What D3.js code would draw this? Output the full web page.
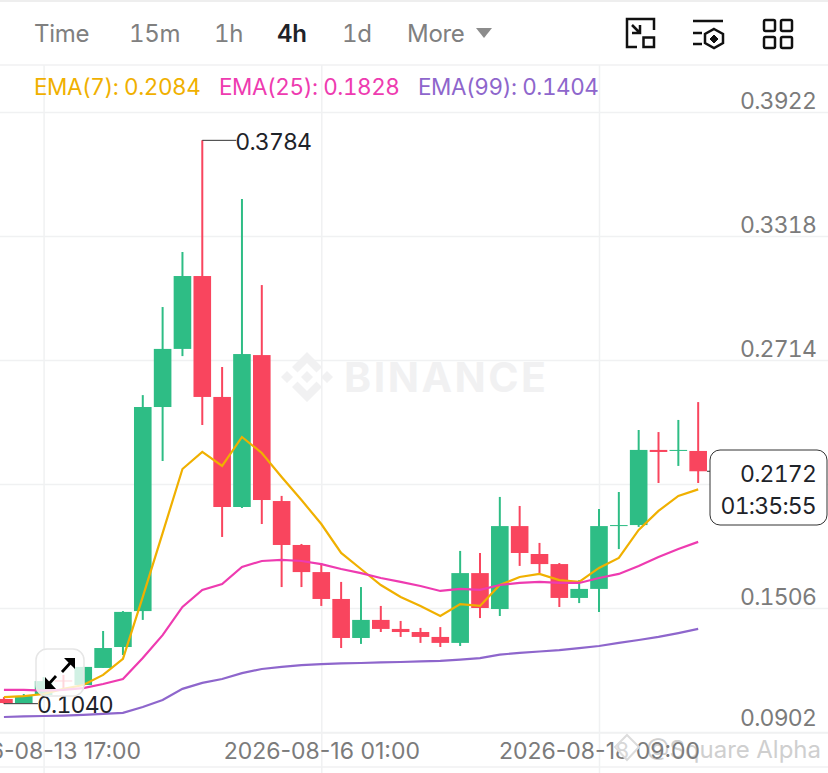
<!DOCTYPE html>
<html>
<head>
<meta charset="utf-8">
<script src="https://cdn.jsdelivr.net/npm/d3@7"></script>
<style>
html, body { margin: 0; padding: 0; background: #fff; overflow: hidden; }
svg { display: block; font-family: Inter, sans-serif; font-variant-numeric: tabular-nums; }
</style>
</head>
<body>
<div id="chart"></div>
<script>
var times = ["2026-08-13 09:00","2026-08-13 13:00","2026-08-13 17:00","2026-08-13 21:00",
    "2026-08-14 01:00","2026-08-14 05:00","2026-08-14 09:00","2026-08-14 13:00","2026-08-14 17:00","2026-08-14 21:00",
    "2026-08-15 01:00","2026-08-15 05:00","2026-08-15 09:00","2026-08-15 13:00","2026-08-15 17:00","2026-08-15 21:00",
    "2026-08-16 01:00","2026-08-16 05:00","2026-08-16 09:00","2026-08-16 13:00","2026-08-16 17:00","2026-08-16 21:00",
    "2026-08-17 01:00","2026-08-17 05:00","2026-08-17 09:00","2026-08-17 13:00","2026-08-17 17:00","2026-08-17 21:00",
    "2026-08-18 01:00","2026-08-18 05:00","2026-08-18 09:00","2026-08-18 13:00","2026-08-18 17:00","2026-08-18 21:00",
    "2026-08-19 01:00","2026-08-19 05:00"];
var open = [.1063,.1043,.1082,.1153,.1131,.1214,.1316,.1491,.2485,.2768,.3123,.2534,.1998,.2738,.2027,.1813,.1681,.1550,
    .1360,.1448,.1404,.1389,.1365,.1336,.1676,.1501,.1905,.1769,.1720,.1555,.1599,.1905,.1910,.2276,.2271,.2271];
var high = [.1072,.1087,.1170,.1180,.1219,.1394,.1491,.2543,.2972,.3240,.3784,.2680,.3498,.3079,.2052,.1818,.1725,.1633,
    .1608,.1516,.1443,.1409,.1413,.1784,.1774,.2047,.2003,.1823,.1725,.1642,.1988,.2071,.2373,.2363,.2422,.2509];
var low = [.1040,.1043,.1077,.1107,.1131,.1214,.1277,.1448,.2222,.2733,.2397,.1852,.1993,.1915,.1608,.1608,.1516,.1311,
    .1331,.1389,.1365,.1336,.1316,.1321,.1457,.1467,.1711,.1676,.1511,.1530,.1487,.1793,.1901,.2115,.2198,.2115];
var close = [.1043,.1077,.1150,.1148,.1219,.1311,.1487,.2485,.2768,.3123,.2534,.1998,.2743,.2032,.1813,.1681,.1550,.1360,
    .1448,.1404,.1389,.1365,.1336,.1676,.1506,.1905,.1774,.1720,.1555,.1599,.1905,.1910,.2276,.2266,.2276,.2172];
var ema7 = [.1072,.1077,.1087,.1112,.1131,.1180,.1258,.1560,.1871,.2183,.2266,.2198,.2339,.2261,.2144,.2032,.1915,.1774,
    .1696,.1618,.1560,.1516,.1467,.1525,.1516,.1618,.1657,.1672,.1642,.1633,.1701,.1750,.1886,.1979,.2052,.2084];
var ema25 = [.1107,.1107,.1104,.1107,.1116,.1136,.1160,.1262,.1374,.1511,.1594,.1623,.1706,.1735,.1740,.1735,.1720,.1696,
    .1676,.1652,.1633,.1613,.1589,.1599,.1594,.1618,.1628,.1633,.1628,.1628,.1652,.1672,.1711,.1754,.1793,.1828];
var ema99 = [.0975,.0978,.0980,.0982,.0985,.0990,.0995,.1024,.1058,.1112,.1141,.1160,.1189,.1209,.1219,.1228,.1233,.1236,
    .1238,.1241,.1243,.1246,.1248,.1255,.1262,.1279,.1287,.1294,.1301,.1311,.1321,.1336,.1350,.1365,.1384,.1404];
var priceTicks = [0.3922, 0.3318, 0.2714, 0.1506, 0.0902];
var gridPrices = [0.3922, 0.3318, 0.2714, 0.2110, 0.1506, 0.0902];
var timeTicks = ["2026-08-13 17:00", "2026-08-16 01:00", "2026-08-18 09:00"];
var intervals = ["Time", "15m", "1h", "4h", "1d", "More"];
var intervalX = [34, 129, 214, 277, 342, 407];
var emaLabels = ["EMA(7): 0.2084", "EMA(25): 0.1828", "EMA(99): 0.1404"];
var emaLabelX = [34, 219, 418];

var width = 828, height = 773,
    gridColor = "#f0f1f2", axisColor = "#7b7b7b",
    up = "#2EBD85", down = "#F9455E",
    emaColors = ["#F0B000", "#EE3BB0", "#8E66CC"];

var parseTime = d3.utcParse("%Y-%m-%d %H:%M"),
    formatTime = d3.utcFormat("%Y-%m-%d %H:%M"),
    dates = times.map(parseTime);

var x = d3.scaleUtc()
    .domain([parseTime(timeTicks[0]), parseTime(timeTicks[2])])
    .range([43.6, 599]);
var y = d3.scaleLinear()
    .domain([0.0902, 0.3922])
    .range([732, 112]);

var svg = d3.select("#chart").append("svg")
    .attr("width", width)
    .attr("height", height);

// frame lines
svg.append("rect").attr("width", width).attr("height", 2).attr("fill", "#eeeeee");
[65, 733, 767].forEach(function (v) {
    svg.append("line").attr("x1", 0).attr("x2", width).attr("y1", v).attr("y2", v)
        .attr("stroke", gridColor).attr("stroke-width", 1.5);
});

// grid
var gridY = d3.axisRight(y).tickValues(gridPrices).tickSize(width).tickFormat("");
svg.append("g").call(gridY)
    .call(function (g) { g.select(".domain").remove(); })
    .selectAll("line").attr("stroke", gridColor).attr("stroke-width", 1.5);
var gridX = d3.axisBottom(x).tickValues(timeTicks.map(parseTime)).tickSize(height - 65).tickFormat("");
svg.append("g").attr("transform", "translate(0,65)").call(gridX)
    .call(function (g) { g.select(".domain").remove(); })
    .selectAll("line").attr("stroke", gridColor).attr("stroke-width", 1.5);

// binance watermark
var wm = svg.append("g").attr("transform", "translate(307,377)").attr("fill", "#f1f1f2");
wm.append("path").attr("d", "M0,-25L15,-10L9.5,-4.5L0,-14L-9.5,-4.5L-15,-10Z M0,25L15,10L9.5,4.5L0,14L-9.5,4.5L-15,10Z M0,-6L6,0L0,6L-6,0Z M-20,-6L-14,0L-20,6L-26,0Z M20,-6L26,0L20,6L14,0Z");
svg.append("text").attr("x", 344).attr("y", 392).attr("font-size", 41).attr("font-weight", 700)
    .attr("letter-spacing", 2.5).attr("fill", "#f1f1f2").text("BINANCE");

// candles
var idx = d3.range(dates.length), bodyWidth = 17.6;
var candle = svg.append("g").selectAll("g").data(idx).enter().append("g")
    .attr("fill", function (i) { return close[i] >= open[i] ? up : down; })
    .attr("stroke", function (i) { return close[i] >= open[i] ? up : down; });
candle.append("line")
    .attr("x1", function (i) { return x(dates[i]); })
    .attr("x2", function (i) { return x(dates[i]); })
    .attr("y1", function (i) { return y(high[i]); })
    .attr("y2", function (i) { return y(low[i]); })
    .attr("stroke-width", 2);
candle.append("rect")
    .attr("x", function (i) { return x(dates[i]) - bodyWidth / 2; })
    .attr("width", bodyWidth)
    .attr("y", function (i) { return y(Math.max(open[i], close[i])); })
    .attr("height", function (i) { return Math.max(1, Math.abs(y(open[i]) - y(close[i]))); })
    .attr("stroke", "none");

// ema lines
var line = d3.line().x(function (d, i) { return x(dates[i]); }).y(function (d) { return y(d); });
[ema7, ema25, ema99].forEach(function (s, k) {
    svg.append("path").datum(s).attr("d", line)
        .attr("fill", "none").attr("stroke", emaColors[k]).attr("stroke-width", 2.2);
});

// high and low markers
function marker(i, value, label) {
    var px = x(dates[i]), py = y(value);
    svg.append("line").attr("x1", px).attr("x2", px + 34).attr("y1", py).attr("y2", py)
        .attr("stroke", "#333").attr("stroke-width", 1);
    svg.append("text").attr("x", px + 33).attr("y", py + 9.5).attr("font-size", 23)
        .attr("letter-spacing", -0.8).attr("fill", "#1e2329").text(label);
}
marker(10, high[10], "0.3784");
marker(0, low[0], "0.1040");

// square alpha mark, the time labels sit on top of it
svg.append("text").attr("x", 821).attr("y", 758).attr("text-anchor", "end").attr("font-size", 24)
    .attr("fill", "#cfcfcf").text("@Square Alpha");

// axes text
var axisY = d3.axisRight(y).tickValues(priceTicks).tickSize(0).tickFormat(d3.format(".4f"));
var gy = svg.append("g").attr("transform", "translate(816,0)").call(axisY);
gy.select(".domain").remove();
gy.selectAll("text").attr("x", 0).attr("text-anchor", "end")
    .attr("dy", function (d) { return d === 0.0902 ? "-7px" : "-4px"; })
    .attr("letter-spacing", -0.8)
    .attr("font-family", "Inter, sans-serif").attr("font-size", 23).attr("fill", axisColor);

var axisX = d3.axisBottom(x).tickValues(timeTicks.map(parseTime)).tickSize(0).tickFormat(formatTime);
var gx = svg.append("g").attr("transform", "translate(0,740)").call(axisX);
gx.select(".domain").remove();
gx.selectAll("text").attr("font-family", "Inter, sans-serif").attr("font-size", 23).attr("fill", axisColor)
    .style("font-variant-numeric", "normal");

svg.append("path").attr("d", "M627,735L639,747L627,760L615,747Z").attr("fill", "#fff").attr("fill-opacity", 0.7)
    .attr("stroke", "#dcdcdc").attr("stroke-width", 2);

// resize button
svg.append("rect").attr("x", 36).attr("y", 649).attr("width", 48).attr("height", 47).attr("rx", 11)
    .attr("fill", "#fff").attr("fill-opacity", 0.78).attr("stroke", "#e6e6e6").attr("stroke-width", 1.5);
svg.append("path").attr("d", "M62,672L72,661 M56,676L47,686")
    .attr("fill", "none").attr("stroke", "#000").attr("stroke-width", 2.8);
svg.append("path").attr("d", "M64,658L75,658L75,669Z M45,677L45,689L56,689Z")
    .attr("fill", "#000");

// price callout
svg.append("line").attr("x1", 707).attr("x2", 710).attr("y1", y(close[35])).attr("y2", y(close[35]))
    .attr("stroke", "#333");
svg.append("rect").attr("x", 710).attr("y", 450).attr("width", 117).attr("height", 75).attr("rx", 10)
    .attr("fill", "#fff").attr("stroke", "#333").attr("stroke-width", 1);
svg.append("text").attr("x", 816).attr("y", 481.5).attr("text-anchor", "end").attr("font-size", 23)
    .attr("letter-spacing", -0.8).attr("fill", "#1e2329").text("0.2172");
svg.append("text").attr("x", 816).attr("y", 513.5).attr("text-anchor", "end").attr("font-size", 23)
    .attr("letter-spacing", -0.8).attr("fill", "#1e2329").text("01:35:55");

// ema legend
svg.append("g").selectAll("text").data(emaLabels).enter().append("text")
    .attr("x", function (d, i) { return emaLabelX[i]; })
    .attr("y", 95).attr("font-size", 22.5).attr("letter-spacing", -0.45)
    .attr("fill", function (d, i) { return emaColors[i]; })
    .text(function (d) { return d; });

// header
svg.append("g").selectAll("text").data(intervals).enter().append("text")
    .attr("x", function (d, i) { return intervalX[i]; })
    .attr("y", 42).attr("font-size", 24).attr("letter-spacing", -0.3)
    .attr("font-weight", function (d) { return d === "4h" ? 600 : 400; })
    .attr("fill", function (d) { return d === "4h" ? "#1e2329" : "#808080"; })
    .text(function (d) { return d; });
svg.append("path").attr("d", "M476,28L492,28L484,38Z").attr("fill", "#8c8c8c");

var icons = svg.append("g").attr("fill", "none").attr("stroke", "#111").attr("stroke-width", 2.5);
icons.append("path").attr("d", "M637,47L627,47L627,19L654,19L654,30 M632,25L640,33 M640,25L640,33L632,33");
icons.append("rect").attr("x", 643.5).attr("y", 37.5).attr("width", 10.5).attr("height", 9.5);
icons.append("path").attr("d", "M693,21L723,21 M693,33L702,33 M693,44L702,44 M714,29L723,34L723,43L714,48L705,43L705,34Z");
icons.append("path").attr("d", "M714,35L718,39L714,43L710,39Z").attr("fill", "#111").attr("stroke-width", 1);
[[763, 19], [780, 19], [763, 36], [780, 36]].forEach(function (p) {
    icons.append("rect").attr("x", p[0] + 1).attr("y", p[1] + 1).attr("width", 11).attr("height", 11).attr("rx", 1.5);
});
</script>
</body>
</html>
